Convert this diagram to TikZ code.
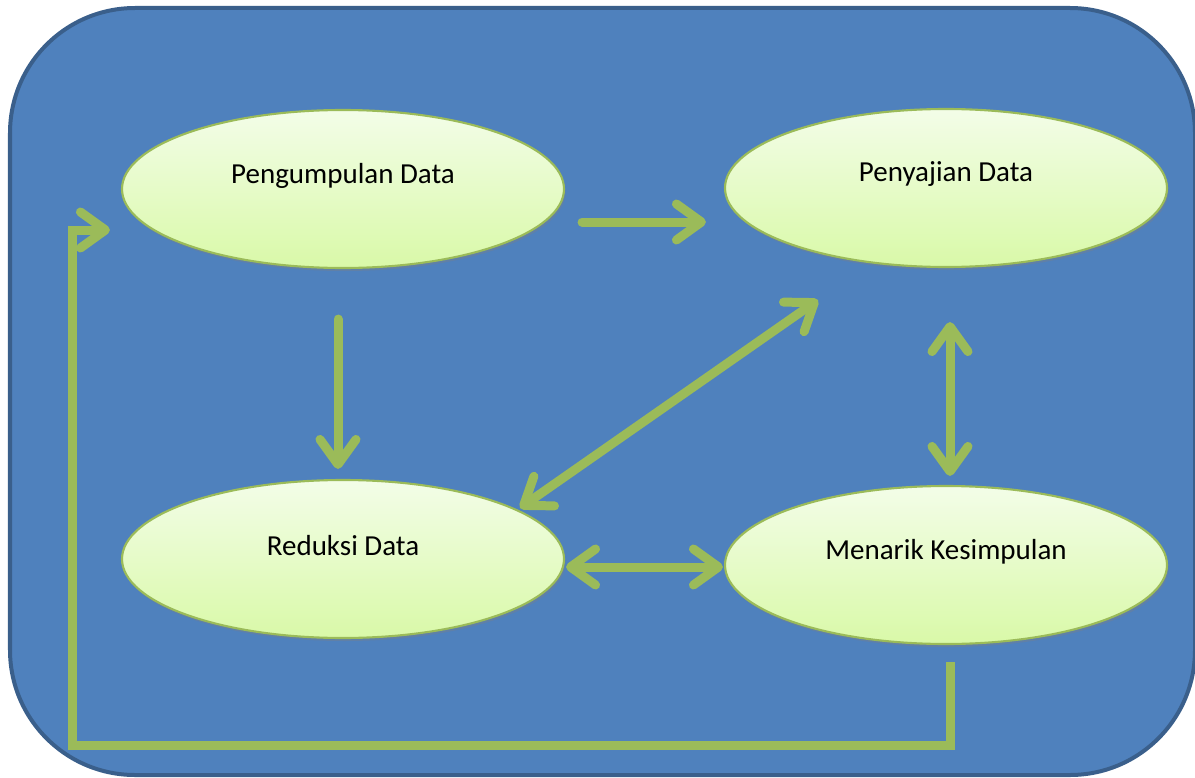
\documentclass[tikz,border=0pt]{standalone}
\usepackage{fontspec}
\setmainfont{Carlito}
\usepackage{tikz}
\usetikzlibrary{shapes.geometric,arrows.meta,shadows}
\definecolor{boxblue}{HTML}{4F81BD}
\definecolor{boxline}{HTML}{3A5F8B}
\definecolor{arrgreen}{HTML}{9BBB59}
\definecolor{elltop}{HTML}{F3FDE8}
\definecolor{ellbot}{HTML}{D9F9A8}

\begin{document}
\begin{tikzpicture}[
    proses/.style={ellipse, draw=arrgreen, line width=1.2pt, minimum width=8.84cm, minimum height=3.16cm,
        top color=elltop, bottom color=ellbot,
        drop shadow={opacity=0.35, shadow xshift=0.03cm, shadow yshift=-0.06cm}},
    teks/.style={yshift=0.27cm, font=\fontsize{16.5}{20}\selectfont},
    panah/.style={arrgreen, line width=0.18cm, line cap=round,
        arrows={-Straight Barb[round, length=0.5cm, width=0.72cm]}},
    duapanah/.style={panah, arrows={Straight Barb[round, length=0.5cm, width=0.72cm]-Straight Barb[round, length=0.5cm, width=0.72cm]}},
    balik/.style={arrgreen, line width=0.18cm, line cap=butt, line join=miter,
        arrows={-Straight Barb[round, length=0.5cm, width=0.72cm]}}]
\useasboundingbox (0,0) rectangle (23.9,-15.56);
\draw[boxline, fill=boxblue, line width=0.08cm, rounded corners=2.5cm] (0.2,-0.16) rectangle (23.9,-15.5);
\node[proses, label={[teks]center:Pengumpulan Data}] (kumpul) at (6.86,-3.78) {};
\node[proses, label={[teks]center:Penyajian Data}] (saji) at (18.92,-3.76) {};
\node[proses, label={[teks]center:Reduksi Data}] (reduksi) at (6.86,-11.18) {};
\node[proses, label={[teks]center:Menarik Kesimpulan}] (menarik) at (18.92,-11.30) {};
\coordinate (sudut) at (1.44,-14.9);
\draw[panah] ([shift={(0.34,-0.66)}]kumpul.east) -- ([shift={(-0.36,-0.66)}]kumpul.east -| saji.west);
\draw[panah] ([shift={(-0.1,-1.0)}]kumpul.south) -- ([shift={(-0.1,0.2)}]reduksi.north);
\draw[duapanah] ([shift={(3.54,1.02)}]reduksi.center) -- ([shift={(-2.56,-2.24)}]saji.center);
\draw[duapanah] ([shift={(0.08,-1.08)}]saji.south) -- ([shift={(0.08,0.18)}]menarik.north);
\draw[duapanah] ([shift={(0.02,-0.16)}]reduksi.east) -- ([shift={(-0.02,-0.16)}]reduksi.east -| menarik.west);
\draw[balik] ([shift={(0.08,-0.34)}]menarik.south) |- (sudut) |- ([shift={(-0.22,-0.82)}]kumpul.west);
\end{tikzpicture}
\end{document}
